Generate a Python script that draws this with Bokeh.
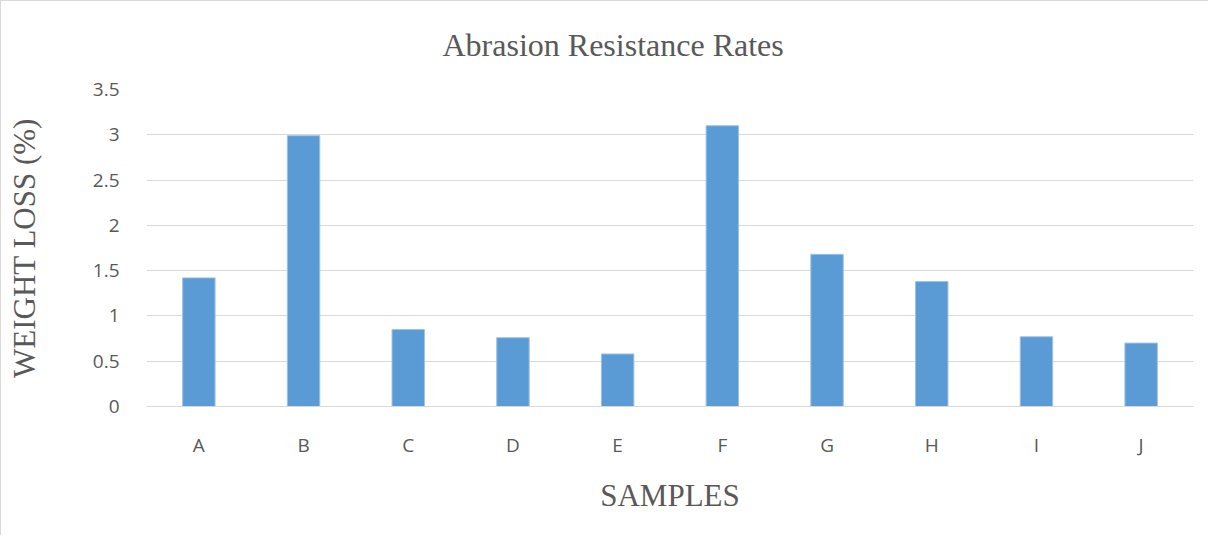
from bokeh.plotting import figure
from bokeh.models import CustomJSTickFormatter, FixedTicker
from bokeh.embed import file_html
from bokeh.resources import INLINE

title_text = "Abrasion Resistance Rates"
samples = ["A", "B", "C", "D", "E", "F", "G", "H", "I", "J"]
weight_loss = [1.42, 2.99, 0.85, 0.76, 0.58, 3.10, 1.68, 1.38, 0.77, 0.70]
y_ticks = [0, 0.5, 1, 1.5, 2, 2.5, 3, 3.5]

p = figure(x_range=samples, y_range=(0, 3.5), width=1208, height=535,
           output_backend="svg", toolbar_location=None,
           min_border_left=145, min_border_right=16,
           min_border_top=88, min_border_bottom=130,
           title=title_text)
p.styles = {"border-left": "1px solid #d9d9d9", "border-top": "1px solid #d9d9d9"}

p.vbar(x=samples, top=weight_loss, width=0.31, fill_color="#5b9bd5",
       line_color="#9dc3e6", line_width=1)

p.title.align = "left"
p.title.offset = 296
p.title.vertical_align = "top"
p.title.standoff = 49
p.title.text_font = "Liberation Serif"
p.title.text_font_size = "32px"
p.title.text_font_style = "normal"
p.title.text_color = "#595959"

p.outline_line_color = None
p.xgrid.grid_line_color = None
p.ygrid.grid_line_color = "#d9d9d9"
p.ygrid.grid_line_width = 1

p.yaxis.ticker = FixedTicker(ticks=y_ticks)
p.yaxis.formatter = CustomJSTickFormatter(code="return tick.toString();")

for ax in (p.xaxis, p.yaxis):
    ax.axis_line_color = None
    ax.major_tick_line_color = None
    ax.minor_tick_line_color = None
    ax.major_label_text_font = "Open Sans"
    ax.major_label_text_font_size = "19px"
    ax.major_label_text_color = "#595959"
    ax.axis_label_text_font = "Liberation Serif"
    ax.axis_label_text_font_size = "31px"
    ax.axis_label_text_font_style = "normal"
    ax.axis_label_text_color = "#595959"

p.xaxis.axis_line_color = "#d9d9d9"
p.xaxis.axis_label = "SAMPLES"
p.yaxis.axis_label = "WEIGHT LOSS (%)"
p.xaxis.major_label_standoff = 19
p.xaxis.axis_label_standoff = 17
p.yaxis.major_label_standoff = 21
p.yaxis.axis_label_standoff = 48

open("out.html", "w").write(file_html(p, INLINE))
